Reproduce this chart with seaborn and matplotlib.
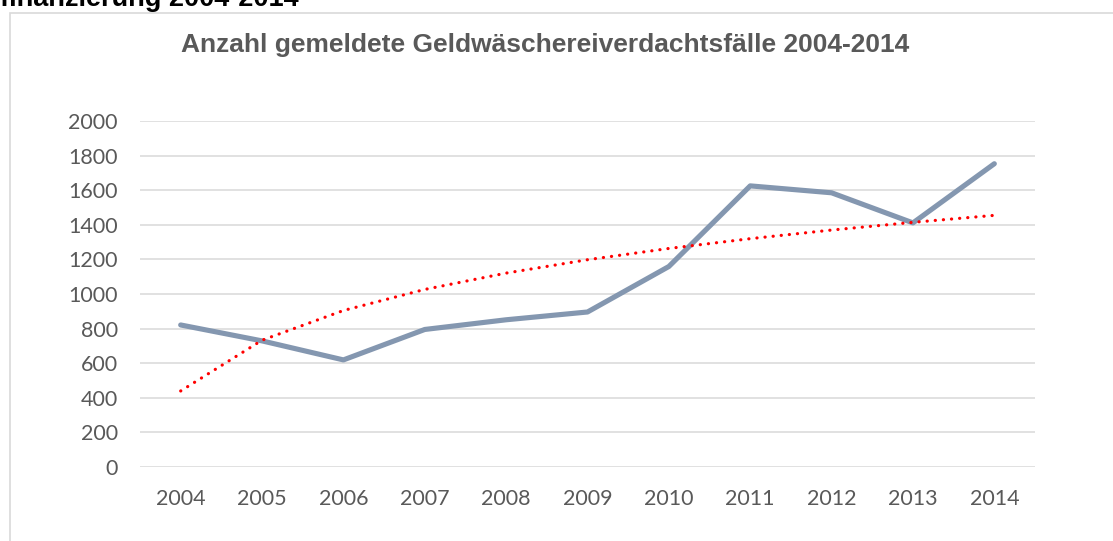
import numpy as np
import pandas as pd
import matplotlib
matplotlib.use("Agg")
import matplotlib.pyplot as plt
from matplotlib.patches import Rectangle
import seaborn as sns

# -------------------------------
# Data
# -------------------------------
YEARS = ["2004", "2005", "2006", "2007", "2008", "2009",
         "2010", "2011", "2012", "2013", "2014"]
CASES = [821, 729, 619, 795, 851, 896, 1159, 1625, 1585, 1411, 1753]

Y_TICKS = [0, 200, 400, 600, 800, 1000, 1200, 1400, 1600, 1800, 2000]

TITLE = "Anzahl gemeldete Geldwäschereiverdachtsfälle 2004-2014"
HEADING = "finanzierung 2004-2014"

LINE_COLOR = "#8497B0"
TREND_COLOR = "#FF0000"
GRID_COLOR = "#D9D9D9"
TEXT_COLOR = "#595959"

# logarithmic trend line (as Excel computes it)
idx = np.arange(1, len(CASES) + 1)
b, a = np.polyfit(np.log(idx), CASES, 1)
trend = a + b * np.log(idx)

df = pd.DataFrame({"Jahr": YEARS, "Faelle": CASES, "Trend": trend})

# -------------------------------
# Figure
# -------------------------------
sns.set_theme(style="white")
plt.rcParams["font.family"] = ["Lato", "DejaVu Sans"]

fig = plt.figure(figsize=(11.13, 5.41), dpi=100)
ax = fig.add_axes([140 / 1113, 1 - 467 / 541, (1035 - 140) / 1113, (467 - 121) / 541])

sns.lineplot(data=df, x="Jahr", y="Faelle", color=LINE_COLOR, linewidth=3.7,
             solid_capstyle="round", solid_joinstyle="round", ax=ax, zorder=3)
sns.lineplot(data=df, x="Jahr", y="Trend", color=TREND_COLOR, linewidth=2.3,
             linestyle=(0, (0.05, 2.5)), dash_capstyle="round", ax=ax, zorder=4)

ax.set_xlim(-0.5, len(YEARS) - 0.5)
ax.set_ylim(0, 2000)
ax.set_yticks(Y_TICKS)
ax.set_yticklabels([str(v) for v in Y_TICKS])
ax.set_xlabel("")
ax.set_ylabel("")

ax.yaxis.grid(True, color=GRID_COLOR, linewidth=1.1)
ax.xaxis.grid(False)
ax.set_axisbelow(True)
for side in ["top", "right", "left", "bottom"]:
    ax.spines[side].set_visible(False)
ax.tick_params(axis="both", length=0, labelsize=15.5, labelcolor=TEXT_COLOR)
ax.tick_params(axis="y", pad=16)
ax.tick_params(axis="x", pad=16)

# chart area border (runs off the right and bottom edges)
fig.patches.append(Rectangle((9.5 / 1113, -0.1), 1.2, 1 - 12.5 / 541 + 0.1,
                             transform=fig.transFigure, fill=False,
                             edgecolor=GRID_COLOR, linewidth=1.2))

fig.text(545.5 / 1113, 1 - 52 / 541, TITLE, ha="center", va="baseline",
         fontsize=19, fontweight="bold", color=TEXT_COLOR,
         family=["Liberation Sans", "DejaVu Sans"])

# document heading, cut off at the top as in the source page
fig.text(0, 1 - 5.5 / 541, HEADING, ha="left", va="baseline",
         fontsize=19.5, fontweight="bold", color="black",
         family=["Liberation Sans", "DejaVu Sans"])

fig.savefig("out.png", dpi=100)
